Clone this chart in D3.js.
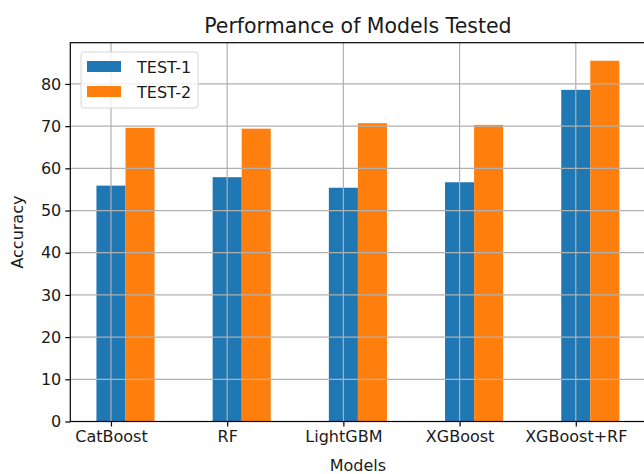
<!DOCTYPE html>
<html>
<head>
<meta charset="utf-8">
<script src="https://cdn.jsdelivr.net/npm/d3@7"></script>
<style>
  body { margin: 0; background: #fff; }
  text { font-family: "DejaVu Sans", sans-serif; fill: #1a1a1a; }
</style>
</head>
<body>
<svg id="chart" width="644" height="474"></svg>
<script>
// data
let models = ["CatBoost", "RF", "LightGBM", "XGBoost", "XGBoost+RF"]
let test1 = [55.9, 57.9, 55.4, 56.7, 78.6]
let test2 = [69.6, 69.4, 70.7, 70.3, 85.5]
let seriesNames = ["TEST-1", "TEST-2"]
let yTicks = [0, 10, 20, 30, 40, 50, 60, 70, 80]

let colors = ["#1f77b4", "#ff7f0e"]
let barW = 0.25

let margin = {top: 42.7, right: -1.5, bottom: 52.5, left: 70.3},
    width = 644 - margin.left - margin.right,
    height = 474 - margin.top - margin.bottom

let svg = d3.select("#chart")
let g = svg.append("g").attr("transform", `translate(${margin.left},${margin.top})`)

// matplotlib-like autoscale: 5% margins around the bar extents
let xMin = -barW / 2, xMax = (models.length - 1) + barW * 1.5
let pad = (xMax - xMin) * 0.05
let x = d3.scaleLinear().domain([xMin - pad, xMax + pad]).range([0, width])
let y = d3.scaleLinear().domain([0, d3.max(test2.concat(test1)) * 1.05]).range([height, 0])

// bars (grid is drawn over them, like matplotlib's default)
let rows = models.map((m, i) => ({m: m, i: i, v: [test1[i], test2[i]]}))
seriesNames.forEach((s, k) => {
    g.selectAll(".bar" + k)
        .data(rows)
        .join("rect")
        .attr("class", "bar" + k)
        .attr("x", d => x(d.i - barW / 2 + k * barW))
        .attr("width", d => x(barW) - x(0))
        .attr("y", d => y(d.v[k]))
        .attr("height", d => y(0) - y(d.v[k]))
        .attr("fill", colors[k])
})

// grid
g.append("g")
    .selectAll("line")
    .data(yTicks)
    .join("line")
    .attr("x1", 0).attr("x2", width)
    .attr("y1", d => y(d)).attr("y2", d => y(d))
    .attr("stroke", "#b0b0b0").attr("stroke-width", 1.2)
g.append("g")
    .selectAll("line")
    .data(d3.range(models.length))
    .join("line")
    .attr("x1", d => x(d)).attr("x2", d => x(d))
    .attr("y1", 0).attr("y2", height)
    .attr("stroke", "#b0b0b0").attr("stroke-width", 1.2)

// axes
let xAxis = d3.axisBottom(x).tickValues(d3.range(models.length))
    .tickFormat(i => models[i]).tickSize(5).tickPadding(4)
let yAxis = d3.axisLeft(y).tickValues(yTicks).tickSize(5).tickPadding(4)

let gx = g.append("g").attr("transform", `translate(0,${height})`).call(xAxis)
let gy = g.append("g").call(yAxis)
;[gx, gy].forEach(a => {
    a.select(".domain").remove()
    a.selectAll(".tick line").attr("stroke", "#000").attr("stroke-width", 1.2)
    a.selectAll(".tick text").attr("font-size", "16px").attr("fill", "#1a1a1a")
})

// spines
g.append("rect")
    .attr("x", 0).attr("y", 0)
    .attr("width", width).attr("height", height)
    .attr("fill", "none").attr("stroke", "#000").attr("stroke-width", 1.2)

// labels
svg.append("text")
    .attr("x", margin.left + width / 2).attr("y", 33)
    .attr("text-anchor", "middle").attr("font-size", "20.5px")
    .text("Performance of Models Tested")
svg.append("text")
    .attr("x", margin.left + width / 2).attr("y", 471)
    .attr("text-anchor", "middle").attr("font-size", "16px")
    .text("Models")
svg.append("text")
    .attr("transform", `translate(23,${margin.top + height / 2}) rotate(-90)`)
    .attr("text-anchor", "middle").attr("font-size", "16px")
    .text("Accuracy")

// legend
let leg = svg.append("g").attr("transform", "translate(81,52)")
leg.append("rect")
    .attr("width", 117).attr("height", 56).attr("rx", 3)
    .attr("fill", "#fff").attr("fill-opacity", 0.8)
    .attr("stroke", "#d6d6d6").attr("stroke-width", 1)
seriesNames.forEach((s, k) => {
    leg.append("rect")
        .attr("x", 6).attr("y", 9 + k * 25)
        .attr("width", 34).attr("height", 11)
        .attr("fill", colors[k])
    leg.append("text")
        .attr("x", 56).attr("y", 21 + k * 25)
        .attr("font-size", "16px")
        .text(s)
})
</script>
</body>
</html>
